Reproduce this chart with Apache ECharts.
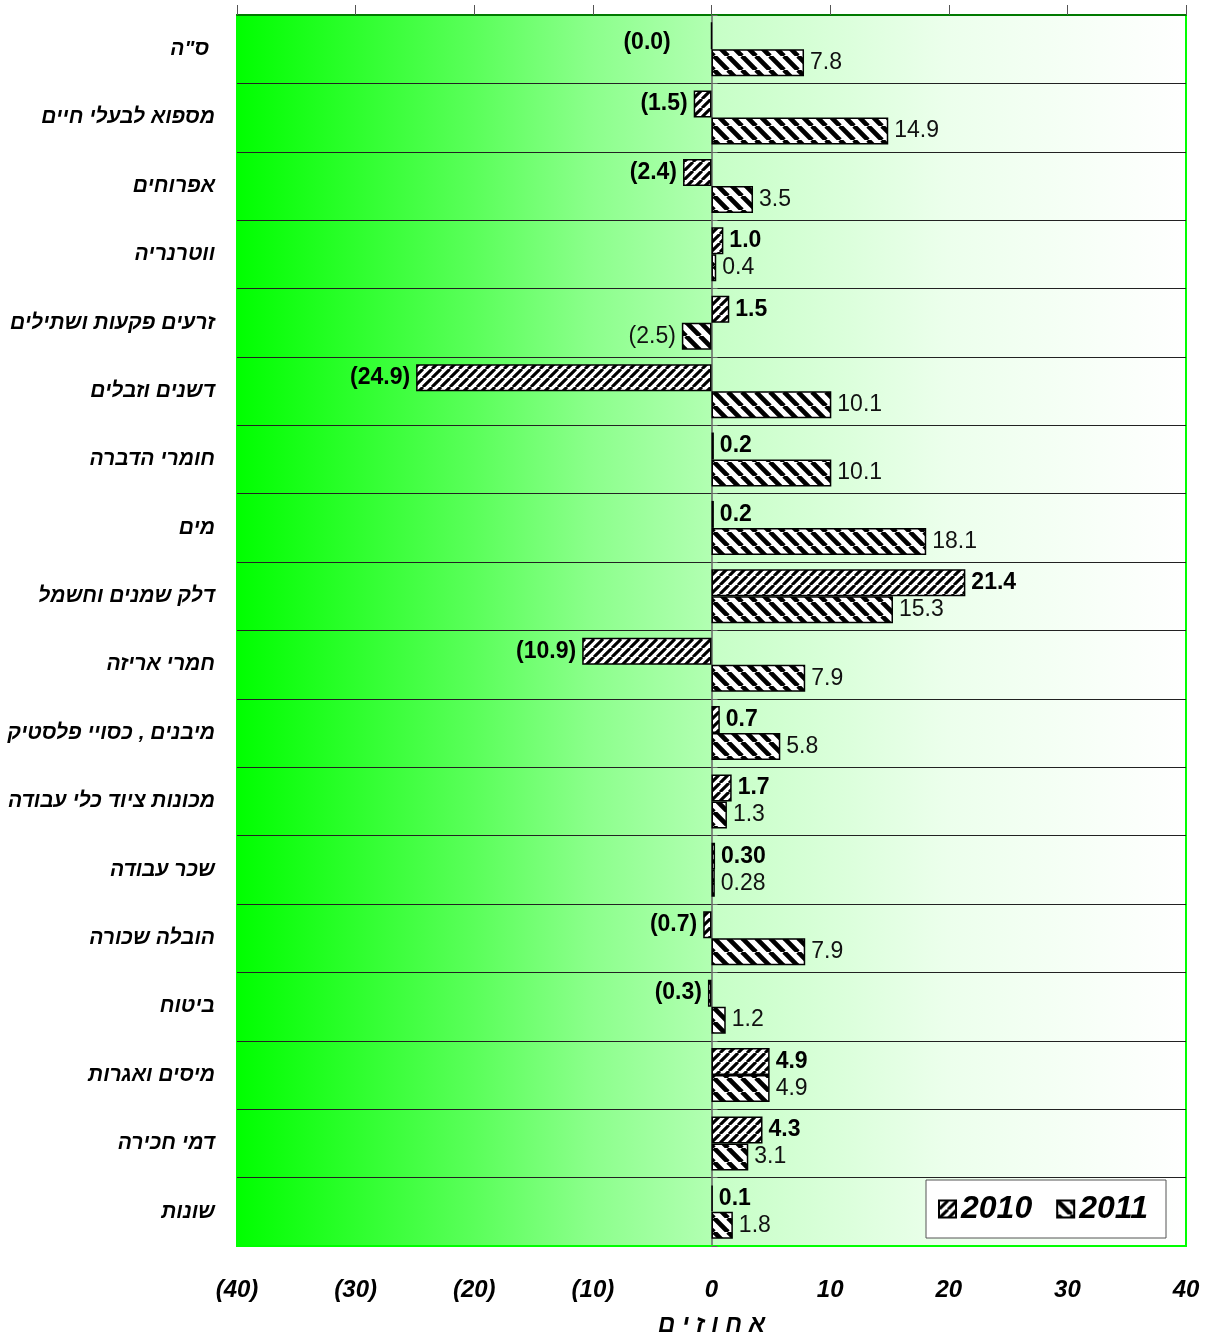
<!DOCTYPE html>
<html lang="he" style="height: 100%">
<head>
    <meta charset="UTF-8">
    <title>שינוי במחירי התשומות</title>
    <script src="https://cdn.jsdelivr.net/npm/echarts@6/dist/echarts.min.js"></script>
</head>
<body style="height: 100%; margin: 0; background: #fff">
<div id="main" style="width: 1211px; height: 1336px"></div>
<script>
    // categories, top to bottom
    var categories = ['ס"ה ', 'מספוא לבעלי חיים', 'אפרוחים', 'ווטרנריה', 'זרעים פקעות ושתילים',
        'דשנים וזבלים', 'חומרי הדברה', 'מים', 'דלק שמנים וחשמל', 'חמרי אריזה',
        'מיבנים , כסויי פלסטיק', 'מכונות ציוד כלי עבודה', 'שכר עבודה', 'הובלה שכורה',
        'ביטוח', 'מיסים ואגרות', 'דמי חכירה', 'שונות'];
    var values2010 = [0.0, -1.5, -2.4, 1.0, 1.5, -24.9, 0.2, 0.2, 21.4, -10.9, 0.7, 1.7, 0.30, -0.7, -0.3, 4.9, 4.3, 0.1];
    var values2011 = [7.8, 14.9, 3.5, 0.4, -2.5, 10.1, 10.1, 18.1, 15.3, 7.9, 5.8, 1.3, 0.28, 7.9, 1.2, 4.9, 3.1, 1.8];
    // decimals shown in the labels of each row
    var labelDigits = [1, 1, 1, 1, 1, 1, 1, 1, 1, 1, 1, 1, 2, 1, 1, 1, 1, 1];
    var xTicks = [-40, -30, -20, -10, 0, 10, 20, 30, 40];

    var FONT = "'Liberation Sans', Arial, 'DejaVu Sans', sans-serif";

    function hatch(p, forward) {
        var c = document.createElement('canvas');
        c.width = p; c.height = p;
        var g = c.getContext('2d');
        g.fillStyle = '#fff';
        g.fillRect(0, 0, p, p);
        g.strokeStyle = '#000';
        g.lineWidth = p * 0.34;
        g.beginPath();
        for (var k = -1; k <= 1; k++) {
            if (forward) { g.moveTo(k * p, p); g.lineTo(k * p + p, 0); }
            else { g.moveTo(k * p, 0); g.lineTo(k * p + p, p); }
        }
        g.stroke();
        return c;
    }

    function makeData(vals) {
        return vals.map(function (v) {
            // a zero value gets its "(0.0)" label set further off, as in the source
            var lbl = {position: v <= 0 ? 'left' : 'right'};
            if (v === 0) { lbl.distance = 40; lbl.offset = [0, 7]; }
            return {value: v, label: lbl};
        });
    }

    function fmt(p) {
        var s = Math.abs(p.value).toFixed(labelDigits[p.dataIndex]);
        return p.value <= 0 ? '(' + s + ')' : s;
    }

    var myChart = echarts.init(document.getElementById('main'));
    var option = {
        animation: false,
        grid: {
            left: 237, right: 25, top: 15, bottom: 90,
            outerBoundsMode: 'none',
            show: true,
            borderColor: '#00ff00',
            borderWidth: 2,
            backgroundColor: {
                type: 'linear', x: 0, y: 0, x2: 1, y2: 0,
                colorStops: [
                    {offset: 0, color: '#00ff00'},
                    {offset: 0.25, color: '#5aff5a'},
                    {offset: 0.375, color: '#8cff8c'},
                    {offset: 0.499, color: '#b2ffb2'},
                    {offset: 0.501, color: '#c6ffc6'},
                    {offset: 0.75, color: '#ecffec'},
                    {offset: 1, color: '#ffffff'}
                ]
            }
        },
        legend: {
            right: 45, bottom: 98,
            data: ['2010', '2011'],
            icon: 'rect',
            backgroundColor: '#fff',
            borderColor: '#555',
            borderWidth: 1,
            padding: [13, 18, 13, 12],
            itemWidth: 17, itemHeight: 17, itemGap: 24,
            textStyle: {fontFamily: FONT, fontWeight: 'bold', fontStyle: 'italic', fontSize: 32, color: '#000'}
        },
        xAxis: [{
            type: 'value', position: 'bottom',
            min: xTicks[0], max: xTicks[xTicks.length - 1], interval: 10,
            axisLine: {show: true, lineStyle: {color: '#00ff00', width: 2}},
            axisTick: {show: false},
            splitLine: {show: false},
            axisLabel: {
                margin: 32,
                fontFamily: FONT, fontWeight: 'bold', fontStyle: 'italic', fontSize: 24, color: '#000',
                formatter: function (v) { return v < 0 ? '(' + (-v) + ')' : String(v); }
            },
            name: 'א ח ו ז י ם', nameLocation: 'middle', nameGap: 67,
            nameTextStyle: {fontFamily: FONT, fontWeight: 'bold', fontStyle: 'italic', fontSize: 24, color: '#000'}
        }, {
            type: 'value', position: 'top',
            min: xTicks[0], max: xTicks[xTicks.length - 1], interval: 10,
            axisLine: {show: true, lineStyle: {color: '#007a00', width: 2}},
            axisTick: {show: true, length: 10, lineStyle: {color: '#555'}},
            axisLabel: {show: false},
            splitLine: {show: false}
        }],
        yAxis: [{
            type: 'category', inverse: true, data: categories,
            axisLine: {show: false},
            axisTick: {show: false},
            splitLine: {show: true, lineStyle: {color: '#222', width: 1}},
            axisLabel: {
                margin: 22,
                fontFamily: FONT, fontWeight: 'bold', fontStyle: 'italic', fontSize: 21, color: '#000'
            }
        }, {
            type: 'category', inverse: true, data: categories, position: 'right',
            axisLine: {show: true, onZero: true, lineStyle: {color: '#666', width: 1.5}},
            axisTick: {show: true, length: 6, lineStyle: {color: '#666'}},
            axisLabel: {show: false},
            splitLine: {show: false}
        }],
        series: [{
            name: '2010', type: 'bar', barWidth: 27, barGap: '0%',
            data: makeData(values2010),
            itemStyle: {color: {image: hatch(9, true), repeat: 'repeat'}, borderColor: '#000', borderWidth: 1.5},
            label: {
                show: true, distance: 6, formatter: fmt,
                fontFamily: FONT, fontWeight: 'bold', fontSize: 23, color: '#000'
            }
        }, {
            name: '2011', type: 'bar', barWidth: 27,
            data: makeData(values2011),
            itemStyle: {color: {image: hatch(14, false), repeat: 'repeat'}, borderColor: '#000', borderWidth: 1.5},
            label: {
                show: true, distance: 6, formatter: fmt,
                fontFamily: FONT, fontSize: 23, color: '#111'
            }
        }]
    };
    myChart.setOption(option);
</script>
</body>
</html>
